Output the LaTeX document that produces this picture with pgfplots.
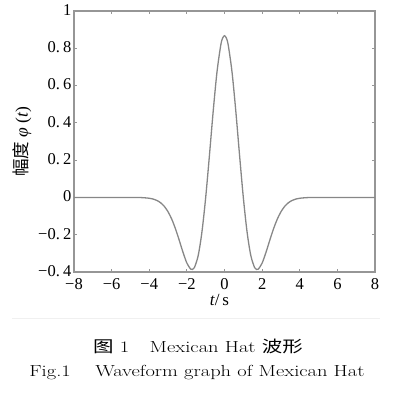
\documentclass[border=0pt]{standalone}
\usepackage{pgfplots}
\pgfplotsset{compat=1.18}
\usepackage{fontspec}
\newfontfamily\tnr{Liberation Serif}
\newfontfamily\cjk{Noto Sans CJK SC}
\definecolor{axgray}{RGB}{150,150,150}
\definecolor{curvegray}{RGB}{135,135,135}
\newcommand{\dt}{.\hspace{0.2em}}
\begin{document}
\begin{tikzpicture}[x=1pt,y=1pt]
\path[use as bounding box] (0,0) rectangle (394,395);
\begin{axis}[
  at={(74pt,123pt)}, anchor=south west,
  scale only axis, width=301pt, height=261pt,
  xmin=-8, xmax=8, ymin=-0.4, ymax=1,
  xtick={-8,-6,-4,-2,0,2,4,6,8},
  xticklabels={−8,−6,−4,−2,0,2,4,6,8},
  ytick={-0.4,-0.2,0,0.2,0.4,0.6,0.8,1},
  yticklabels={−0\dt4,−0\dt2,0,0\dt2,0\dt4,0\dt6,0\dt8,1},
  tick label style={font=\tnr\fontsize{16.5}{16.5}\selectfont},
  xticklabel style={yshift=-3pt},
  yticklabel style={xshift=1pt, yshift=1pt},
  tick align=inside, major tick length=3pt,
  axis line style={axgray, line width=1.2pt},
  every tick/.style={axgray, line width=0.8pt},
  xlabel={\tnr\fontsize{17}{17}\selectfont\textit{t}/\,s},
  xlabel style={yshift=2pt, xshift=-5pt},
  ylabel={\tnr\fontsize{17.5}{17.5}\selectfont{\cjk 幅度}\ \textit{φ}\ (\textit{t})},
  ylabel style={yshift=0pt},
  clip=true,
]
\addplot[curvegray, line width=1.3pt, smooth] coordinates {
(-8,0) (-7,0) (-6,0) (-5,-0.0001) (-4.4,-0.0010) (-4.0,-0.0044) (-3.8,-0.0085)
(-3.6,-0.0159) (-3.4,-0.0283) (-3.2,-0.0479) (-3.0,-0.0771) (-2.8,-0.1177)
(-2.6,-0.1701) (-2.4,-0.2317) (-2.2,-0.2961) (-2.0,-0.3521) (-1.8,-0.3845)
(-1.7,-0.3864) (-1.6,-0.3762) (-1.4,-0.3125) (-1.2,-0.1857) (-1.0,0)
(-0.8,0.2267) (-0.6,0.4636) (-0.4,0.6725) (-0.2,0.8161) (-0.1,0.8544) (0,0.8673)
(0.1,0.8544) (0.2,0.8161) (0.4,0.6725) (0.6,0.4636) (0.8,0.2267) (1.0,0)
(1.2,-0.1857) (1.4,-0.3125) (1.6,-0.3762) (1.7,-0.3864) (1.8,-0.3845)
(2.0,-0.3521) (2.2,-0.2961) (2.4,-0.2317) (2.6,-0.1701) (2.8,-0.1177)
(3.0,-0.0771) (3.2,-0.0479) (3.4,-0.0283) (3.6,-0.0159) (3.8,-0.0085)
(4.0,-0.0044) (4.4,-0.0010) (5,-0.0001) (6,0) (7,0) (8,0)
};
\end{axis}
\draw[black!6, line width=0.8pt] (12,77) -- (380,77);
\node[font=\fontsize{16}{16}\selectfont, xscale=1.28, transform shape] at (198,49) {{\cjk 图}~1\hspace{1.0em}Mexican Hat {\cjk 波形}};
\node[font=\fontsize{16}{16}\selectfont, xscale=1.28, transform shape] at (197,22) {Fig.1\hspace{1.2em}Waveform graph of Mexican Hat};
\end{tikzpicture}
\end{document}
